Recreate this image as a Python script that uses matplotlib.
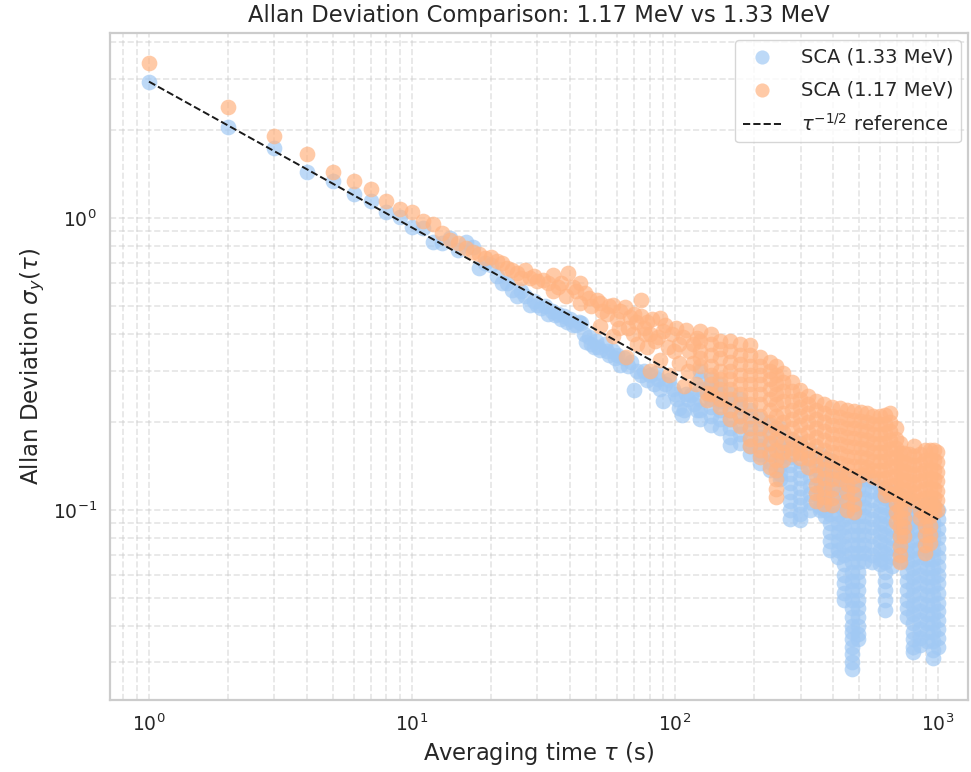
import numpy as np
import matplotlib
matplotlib.use("Agg")
import matplotlib.pyplot as plt
import seaborn as sns

sns.set_theme(style="whitegrid", context="notebook")
plt.rcParams['font.family'] = ['DejaVu Sans']

# ---------------- data ----------------
# SCA (1.33 MeV) -- blue
blue_tau_a = list(range(1, 31))
blue_val_a = [2.93, 2.05, 1.74, 1.44, 1.34, 1.205, 1.146, 1.05, 1.005, 0.929,
              0.922, 0.826, 0.819, 0.853, 0.777, 0.826, 0.798, 0.673, 0.700, 0.690,
              0.630, 0.598, 0.600, 0.567, 0.538, 0.560, 0.538, 0.504, 0.520, 0.504]

blue_tau_b = [31, 32, 33, 34, 35, 36, 37, 38, 39, 40, 41, 42, 43, 44, 45, 46, 47, 48,
              49, 50, 51, 52, 54, 55, 56, 58, 59, 60, 62, 64, 66, 68, 70, 72, 74, 76,
              78, 80, 83, 85, 86, 88, 90, 92, 95, 98, 100, 102, 104, 106, 108, 110,
              112, 115, 118, 121]
blue_val_b = [0.49, 0.50, 0.47, 0.48, 0.465, 0.47, 0.45, 0.46, 0.44, 0.45, 0.43, 0.43,
              0.44, 0.436, 0.40, 0.377, 0.39, 0.37, 0.362, 0.38, 0.36, 0.353, 0.37,
              0.35, 0.340, 0.35, 0.33, 0.34, 0.314, 0.33, 0.31, 0.32, 0.258, 0.30,
              0.29, 0.30, 0.279, 0.29, 0.27, 0.295, 0.28, 0.26, 0.235, 0.27, 0.279,
              0.26, 0.25, 0.24, 0.224, 0.212, 0.22, 0.25, 0.24, 0.248, 0.23, 0.22]

blue_col_tau = [124, 137, 148, 162, 177, 193, 211, 230, 251, 273, 299, 326, 356, 372,
                388, 415, 440, 470, 495, 523, 560, 602, 630, 670, 717, 760, 804, 855,
                905, 955, 1000]
blue_col_vals = [
    [0.30, 0.28, 0.26, 0.24, 0.22, 0.205],
    [0.28, 0.26, 0.24, 0.225, 0.21, 0.195],
    [0.27, 0.25, 0.235, 0.22, 0.205, 0.19],
    [0.25, 0.235, 0.22, 0.205, 0.19, 0.177, 0.167],
    [0.24, 0.225, 0.21, 0.195, 0.182, 0.17],
    [0.22, 0.205, 0.19, 0.177, 0.165, 0.155],
    [0.205, 0.19, 0.178, 0.166, 0.155, 0.145],
    [0.195, 0.18, 0.168, 0.157, 0.146, 0.137],
    [0.19, 0.175, 0.163, 0.152, 0.142, 0.133, 0.127],
    [0.175, 0.163, 0.152, 0.142, 0.133, 0.124, 0.115, 0.107, 0.10, 0.093],
    [0.17, 0.158, 0.147, 0.137, 0.128, 0.119, 0.111, 0.104, 0.097, 0.092],
    [0.16, 0.149, 0.139, 0.13, 0.121, 0.113, 0.106, 0.10],
    [0.155, 0.144, 0.134, 0.125, 0.117, 0.109, 0.102, 0.10],
    [0.15, 0.14, 0.131, 0.122, 0.114, 0.107, 0.10, 0.095],
    [0.148, 0.138, 0.129, 0.12, 0.112, 0.104, 0.097, 0.09, 0.084, 0.078, 0.073],
    [0.137, 0.128, 0.12, 0.112, 0.104, 0.097, 0.09, 0.084, 0.078, 0.073, 0.069],
    [0.132, 0.123, 0.115, 0.107, 0.1, 0.093, 0.087, 0.081, 0.075, 0.07, 0.065, 0.06,
     0.056, 0.052, 0.049],
    [0.127, 0.118, 0.11, 0.102, 0.095, 0.088, 0.082, 0.076, 0.071, 0.066, 0.061, 0.057,
     0.053, 0.049, 0.046, 0.043, 0.04, 0.038, 0.036, 0.034, 0.032, 0.030, 0.0285],
    [0.127, 0.118, 0.11, 0.102, 0.095, 0.088, 0.082, 0.076, 0.071, 0.066, 0.061, 0.057,
     0.053, 0.049, 0.046, 0.043, 0.040, 0.0375, 0.036],
    [0.127, 0.118, 0.11, 0.102, 0.095, 0.088, 0.082, 0.076, 0.071, 0.067],
    [0.125, 0.116, 0.108, 0.1, 0.093, 0.087, 0.081, 0.075, 0.07, 0.066],
    [0.12, 0.112, 0.104, 0.097, 0.09, 0.084, 0.078, 0.073, 0.068, 0.065],
    [0.118, 0.11, 0.102, 0.095, 0.088, 0.082, 0.076, 0.071, 0.066, 0.061, 0.057, 0.053,
     0.049, 0.0455],
    [0.115, 0.107, 0.1, 0.093, 0.086, 0.08, 0.074, 0.069, 0.064],
    [0.112, 0.104, 0.097, 0.09, 0.084, 0.078, 0.072, 0.067],
    [0.11, 0.102, 0.095, 0.088, 0.082, 0.076, 0.071, 0.066, 0.061, 0.057, 0.053, 0.049,
     0.046, 0.043],
    [0.105, 0.098, 0.091, 0.085, 0.079, 0.073, 0.068, 0.063, 0.059, 0.055, 0.051, 0.047,
     0.044, 0.041, 0.038, 0.036, 0.034, 0.0325],
    [0.10, 0.093, 0.086, 0.08, 0.074, 0.069, 0.064, 0.06, 0.056, 0.052, 0.048, 0.045,
     0.042, 0.039, 0.0365, 0.0345],
    [0.105, 0.098, 0.091, 0.085, 0.079, 0.073, 0.068, 0.063, 0.059, 0.055, 0.051, 0.047,
     0.044, 0.041, 0.038, 0.0355],
    [0.105, 0.098, 0.091, 0.085, 0.079, 0.073, 0.068, 0.063, 0.059, 0.055, 0.051, 0.047,
     0.044, 0.041, 0.038, 0.0355, 0.033, 0.031],
    [0.10, 0.093, 0.086, 0.08, 0.074, 0.069, 0.064, 0.06, 0.056, 0.052, 0.048, 0.045,
     0.042, 0.039, 0.0365, 0.034],
]

# SCA (1.17 MeV) -- orange
orange_tau_a = list(range(1, 31))
orange_val_a = [3.39, 2.39, 1.91, 1.66, 1.44, 1.34, 1.26, 1.146, 1.073, 1.05,
                0.979, 0.954, 0.891, 0.841, 0.819, 0.788, 0.767, 0.753, 0.728, 0.737,
                0.709, 0.700, 0.673, 0.664, 0.647, 0.620, 0.664, 0.622, 0.630, 0.610]

orange_tau_b = [31.5, 33, 34.5, 34.5, 36, 37, 38.6, 39.3, 41, 42, 43.5, 43.5, 45.5, 47,
                48, 50.5, 51.9, 51.9, 53, 55, 56, 58, 58, 60, 62, 64.5, 65, 66, 67.5,
                69, 71, 72, 74, 74, 76, 78, 78, 80, 80, 82, 84, 87.7, 87.7, 90, 92, 94,
                95, 97, 101, 104, 104, 107, 108, 110, 113, 117, 117, 120, 121, 132, 132,
                61, 70, 77, 86, 99, 112]
orange_val_b = [0.613, 0.60, 0.638, 0.56, 0.58, 0.60, 0.538, 0.647, 0.58, 0.56, 0.598,
                0.51, 0.552, 0.53, 0.50, 0.524, 0.51, 0.425, 0.48, 0.47, 0.50, 0.504,
                0.393, 0.45, 0.48, 0.497, 0.335, 0.42, 0.459, 0.40, 0.44, 0.37, 0.524,
                0.46, 0.42, 0.362, 0.44, 0.40, 0.30, 0.45, 0.38, 0.454, 0.327, 0.41,
                0.43, 0.36, 0.29, 0.40, 0.419, 0.318, 0.37, 0.39, 0.265, 0.414, 0.35,
                0.318, 0.37, 0.27, 0.387, 0.238, 0.251,
                0.42, 0.47, 0.40, 0.39, 0.35, 0.30]

orange_col_tau = [124, 137, 148, 162, 177, 193, 211, 229, 243, 258, 278, 299, 320, 345,
                  370, 395, 424, 450, 480, 510, 535, 565, 600, 630, 657, 690, 717, 745,
                  775, 810, 855, 890, 930, 965, 995]
orange_col_vals = [
    [0.41, 0.38, 0.35, 0.33, 0.31],
    [0.40, 0.37, 0.34, 0.31, 0.29, 0.27, 0.25],
    [0.38, 0.355, 0.33, 0.30, 0.28, 0.26, 0.24, 0.225],
    [0.38, 0.35, 0.32, 0.30, 0.28, 0.26, 0.24, 0.22, 0.205],
    [0.37, 0.34, 0.315, 0.29, 0.27, 0.25, 0.23, 0.21, 0.193],
    [0.367, 0.34, 0.31, 0.29, 0.27, 0.25, 0.23, 0.21, 0.19, 0.175, 0.165],
    [0.335, 0.31, 0.29, 0.27, 0.25, 0.23, 0.21, 0.19, 0.175, 0.16, 0.152],
    [0.32, 0.30, 0.28, 0.26, 0.24, 0.22, 0.20, 0.185, 0.17, 0.155, 0.14],
    [0.31, 0.29, 0.27, 0.25, 0.23, 0.21, 0.19, 0.175, 0.16, 0.148, 0.137, 0.127, 0.118,
     0.111],
    [0.295, 0.275, 0.255, 0.235, 0.215, 0.20, 0.185, 0.17, 0.158, 0.148],
    [0.275, 0.255, 0.235, 0.22, 0.205, 0.19, 0.175, 0.163, 0.155],
    [0.258, 0.24, 0.225, 0.21, 0.195, 0.18, 0.168, 0.157, 0.15],
    [0.245, 0.23, 0.215, 0.20, 0.185, 0.172, 0.16, 0.15, 0.14],
    [0.235, 0.22, 0.205, 0.19, 0.177, 0.165, 0.153, 0.142, 0.132, 0.122, 0.114, 0.107],
    [0.23, 0.215, 0.20, 0.186, 0.173, 0.16, 0.149, 0.138, 0.128, 0.119, 0.111, 0.105],
    [0.225, 0.21, 0.195, 0.182, 0.17, 0.158, 0.147, 0.137, 0.127, 0.118, 0.11, 0.104],
    [0.223, 0.208, 0.193, 0.18, 0.168, 0.156, 0.145, 0.135, 0.127],
    [0.22, 0.205, 0.19, 0.177, 0.165, 0.153, 0.142, 0.132, 0.123, 0.115, 0.107, 0.100],
    [0.218, 0.203, 0.19, 0.176, 0.164, 0.152, 0.141, 0.131, 0.122, 0.113, 0.105, 0.098],
    [0.217, 0.202, 0.188, 0.175, 0.163, 0.152, 0.141, 0.132],
    [0.215, 0.20, 0.186, 0.173, 0.161, 0.15, 0.14, 0.135],
    [0.21, 0.196, 0.182, 0.17, 0.158, 0.147, 0.137, 0.13],
    [0.21, 0.196, 0.182, 0.17, 0.158, 0.147, 0.137, 0.127],
    [0.212, 0.197, 0.183, 0.17, 0.158, 0.147, 0.137, 0.128, 0.119, 0.112],
    [0.215, 0.20, 0.186, 0.173, 0.161, 0.15, 0.14, 0.13, 0.121, 0.113],
    [0.19, 0.175, 0.163, 0.152, 0.141, 0.131, 0.122, 0.113, 0.105, 0.098, 0.091],
    [0.17, 0.157, 0.146, 0.136, 0.126, 0.117, 0.109, 0.101, 0.094, 0.087, 0.081, 0.075,
     0.07, 0.066],
    [0.157, 0.146, 0.136, 0.126, 0.117, 0.109, 0.101, 0.094, 0.087, 0.081],
    [0.155, 0.144, 0.134, 0.125, 0.117, 0.11],
    [0.165, 0.153, 0.142, 0.132, 0.123, 0.114, 0.107],
    [0.155, 0.144, 0.134, 0.125, 0.116, 0.108, 0.10, 0.094],
    [0.16, 0.148, 0.137, 0.127, 0.118, 0.11, 0.102, 0.095, 0.088, 0.082, 0.076, 0.071],
    [0.16, 0.148, 0.137, 0.127, 0.118, 0.11, 0.102, 0.095, 0.088, 0.082, 0.077],
    [0.16, 0.148, 0.137, 0.127, 0.118, 0.11, 0.103, 0.098],
    [0.158, 0.146, 0.135, 0.125, 0.116, 0.108, 0.10],
]

title = "Allan Deviation Comparison: 1.17 MeV vs 1.33 MeV"
xlabel = r"Averaging time $\tau$ (s)"
ylabel = r"Allan Deviation $\sigma_y(\tau)$"
label_blue = "SCA (1.33 MeV)"
label_orange = "SCA (1.17 MeV)"
label_ref = r"$\tau^{-1/2}$ reference"


def expand(col_tau, col_vals):
    t, v = [], []
    for tau, vals in zip(col_tau, col_vals):
        t += [tau] * len(vals)
        v += list(vals)
    return t, v


bt, bv = expand(blue_col_tau, blue_col_vals)
ot, ov = expand(orange_col_tau, orange_col_vals)
blue_tau = np.array(blue_tau_a + blue_tau_b + bt, dtype=float)
blue_val = np.array(blue_val_a + blue_val_b + bv, dtype=float)
orange_tau = np.array(orange_tau_a + orange_tau_b + ot, dtype=float)
orange_val = np.array(orange_val_a + orange_val_b + ov, dtype=float)

ref_tau = np.unique(np.concatenate([blue_tau, orange_tau]))
ref_val = blue_val_a[0] * ref_tau ** -0.5

# ---------------- figure ----------------
W, H = 971, 772
fig = plt.figure(figsize=(W / 100, H / 100), dpi=100)
ax = fig.add_axes([110 / W, 1 - 700 / H, (968 - 110) / W, (700 - 33) / H])

ax.scatter(blue_tau, blue_val, s=128, color='#a1c9f4', alpha=0.7, linewidths=0,
           label=label_blue, zorder=2)
ax.scatter(orange_tau, orange_val, s=128, color='#ffb482', alpha=0.7, linewidths=0,
           label=label_orange, zorder=3)
ax.plot(ref_tau, ref_val, 'k--', lw=1.4, label=label_ref, zorder=4)

ax.set_xscale('log')
ax.set_yscale('log')
ax.set_xlim(0.711, 1300)
ax.set_ylim(0.0223, 4.30)

ax.grid(True, which='both', ls='--', lw=1.2, color='#cccccc', alpha=0.5)
for sp in ax.spines.values():
    sp.set_color('#cccccc')
    sp.set_linewidth(1.6)

ax.tick_params(axis='both', which='major', labelsize=13.5, colors='#262626')
ax.set_title(title, fontsize=16.3, color='#262626', pad=8)
ax.set_xlabel(xlabel, fontsize=16.3, color='#262626')
ax.set_ylabel(ylabel, fontsize=16.5, color='#262626')

leg = ax.legend(loc='upper right', fontsize=14, frameon=True, framealpha=0.8,
                edgecolor='#cccccc', borderaxespad=0.35, labelspacing=0.7,
                handletextpad=1.0, markerscale=0.9)

fig.savefig('out.png', dpi=100)
